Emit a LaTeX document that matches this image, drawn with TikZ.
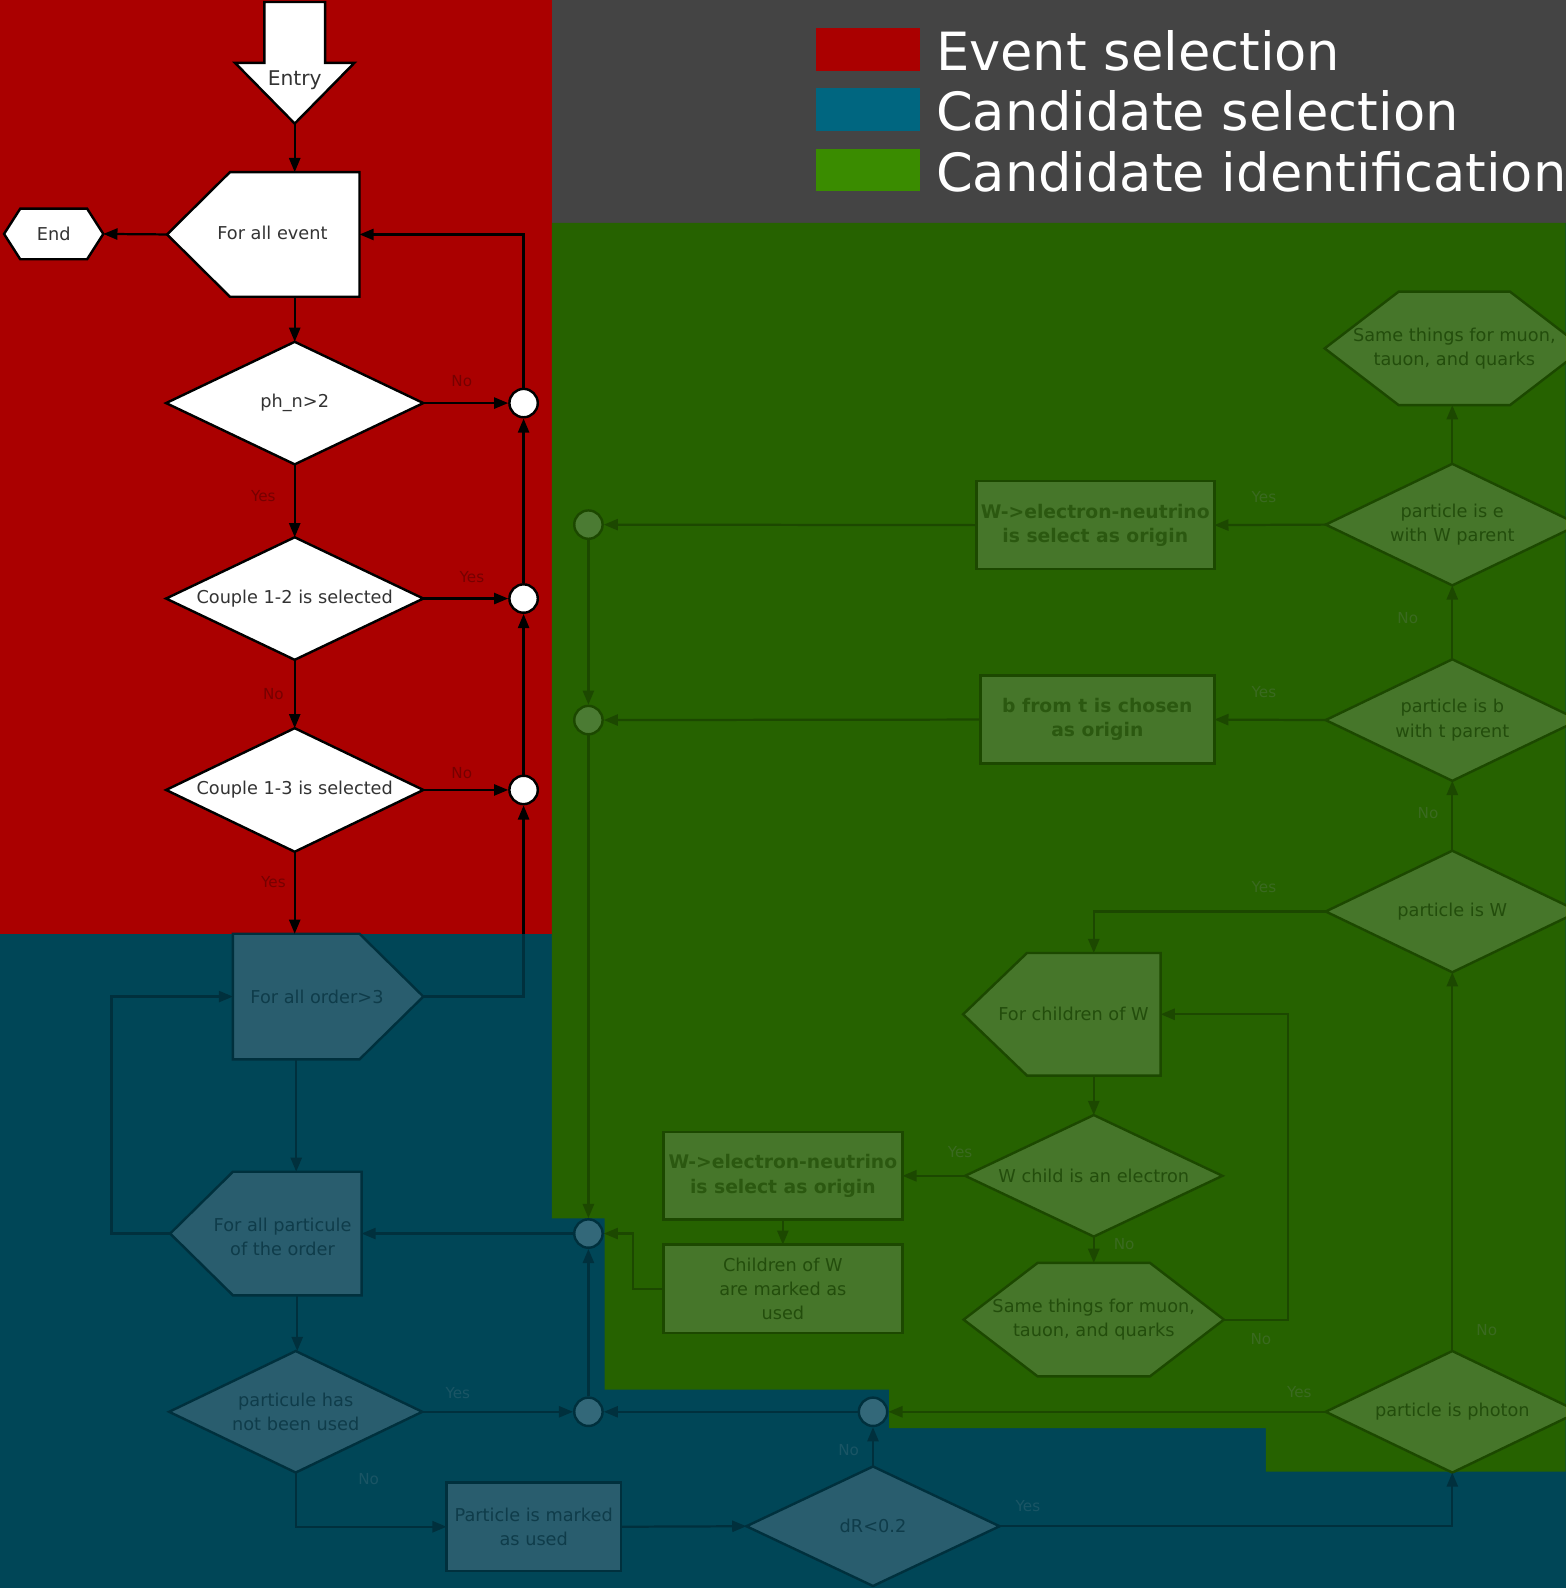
\documentclass[tikz,border=0pt]{standalone}
\usepackage{fontspec}
\setmainfont{DejaVu Sans}
\usetikzlibrary{arrows.meta,calc,shapes.geometric}
\definecolor{evred}{HTML}{AA0000}
\definecolor{legblue}{HTML}{006680}
\definecolor{leggreen}{HTML}{3A8C00}
\definecolor{graybg}{HTML}{444444}
\definecolor{gbg}{HTML}{266200}
\definecolor{gfill}{HTML}{46762A}
\definecolor{gline}{HTML}{1C4800}
\definecolor{gtxt}{HTML}{234D0C}
\definecolor{gbold}{HTML}{2B5810}
\definecolor{glbl}{HTML}{3A6A20}
\definecolor{gcirc}{HTML}{4B7B33}
\definecolor{bbg}{HTML}{004657}
\definecolor{bfill}{HTML}{295D6E}
\definecolor{bline}{HTML}{00303D}
\definecolor{btxt}{HTML}{0F3C4A}
\definecolor{blbl}{HTML}{1A5565}
\definecolor{bcirc}{HTML}{336879}
\definecolor{rtxt}{HTML}{333333}
\definecolor{rlbl}{HTML}{760000}

\pgfdeclarelayer{bglayer}
\pgfdeclarelayer{shplayer}
\pgfsetlayers{bglayer,shplayer,main}

\newcommand\myhex[3]{\draw[#3] (#1.west) -- ($(#1.north west)+(#2,0)$) -- ($(#1.north east)+(-#2,0)$) -- (#1.east) -- ($(#1.south east)+(-#2,0)$) -- ($(#1.south west)+(#2,0)$) -- cycle;}

\tikzset{
  sz/.style 2 args={minimum width=#1pt, minimum height=#2pt},
  mybase/.style={inner sep=0pt, outer sep=0pt, align=center, font=\fontsize{17.5}{24}\selectfont},
  boldtxt/.style={font=\fontsize{18.5}{24}\selectfont\bfseries, text=gbold},
  rnode/.style={mybase, fill=white, draw=black, line width=2.4pt, text=rtxt},
  bnode/.style={mybase, fill=bfill, draw=bline, line width=2.4pt, text=btxt},
  gnode/.style={mybase, fill=gfill, draw=gline, line width=2.4pt, text=gtxt},
  rpoly/.style={fill=white, draw=black, line width=2.4pt},
  bpoly/.style={fill=bfill, draw=bline, line width=2.4pt},
  gpoly/.style={fill=gfill, draw=gline, line width=2.4pt},
  rt/.style={mybase, text=rtxt},
  btx/.style={mybase, text=btxt},
  gtx/.style={mybase, text=gtxt},
  dia/.style={diamond, aspect=2},
  circ/.style={circle, minimum size=28pt, inner sep=0pt, line width=2.4pt},
  rcirc/.style={circ, fill=white, draw=black},
  bcircle/.style={circ, fill=bcirc, draw=bline},
  gcircle/.style={circ, fill=gcirc, draw=gline},
  arr/.style={-{Triangle[length=14pt,width=11pt]}},
  rc/.style={draw=black, line width=2.2pt},
  bc/.style={draw=bline, line width=2.2pt},
  gc/.style={draw=gline, line width=2.2pt},
  lbl/.style={inner sep=0pt, font=\fontsize{15}{18}\selectfont},
  lr/.style={lbl, text=rlbl},
  lb/.style={lbl, text=blbl},
  lg/.style={lbl, text=glbl},
  legtxt/.style={anchor=base west, inner sep=0pt, text=white, font=\fontsize{52}{60}\selectfont},
}

\begin{document}
\begin{tikzpicture}[x=1pt,y=-1pt]
\useasboundingbox (0,0) rectangle (1546,1568);

% ---------- background regions ----------
\begin{pgfonlayer}{bglayer}
\fill[bbg] (0,0) rectangle (1546,1568);
\fill[evred] (0,0) rectangle (545,922);
\fill[graybg] (545,0) rectangle (1546,220);
\fill[gbg] (545,220) -- (1546,220) -- (1546,1453) -- (1250,1453) -- (1250,1410)
  -- (878,1410) -- (878,1372) -- (597,1372) -- (597,1203) -- (545,1203) -- cycle;
\end{pgfonlayer}

% ---------- legend ----------
\node[fill=evred, sz={102}{42}, inner sep=0pt] (sq1) at (857,49) {};
\node[fill=legblue, sz={102}{42}, inner sep=0pt] (sq2) at (857,108) {};
\node[fill=leggreen, sz={102}{42}, inner sep=0pt] (sq3) at (857,168) {};
\node[legtxt] (lg1) at (924,70) {Event selection};
\node[legtxt] (lg2) at (924,129) {Candidate selection};
\node[legtxt] (lg3) at (924,189) {Candidate identification};

% ---------- event selection (red) ----------
\coordinate (entrytip) at (291,122);
\node[rt, font=\fontsize{20}{24}\selectfont] (entry) at (291,79) {Entry};
\node[mybase, sz={128}{123}] (fe) at (291,231.5) {};
\coordinate (fetip) at (165,231.5);
\node[rt] (fe-t) at (269,230) {For all event};
\node[rt, sz={98}{50}] (end) at (53,231) {End};
\node[rnode, dia, sz={254}{121}] (ph) at (291,398) {ph\_n>2};
\node[rcirc] (c1) at (517,398) {};
\node[rnode, dia, sz={254}{121}] (c12) at (291,591) {Couple 1-2 is selected};
\node[rcirc] (c2) at (517,591) {};
\node[rnode, dia, sz={254}{122}] (c13) at (291,780) {Couple 1-3 is selected};
\node[rcirc] (c3) at (517,780) {};

% ---------- candidate selection (blue) ----------
\node[mybase, sz={125}{124}] (fo) at (292.5,984) {};
\coordinate (fotip) at (418,984);
\node[btx] (fo-t) at (313,984) {For all order>3};
\node[mybase, sz={127}{122}] (fp) at (293.5,1218) {};
\coordinate (fptip) at (168,1218);
\node[btx] (fp-t) at (279,1221) {For all particule\\of the order};
\node[bnode, dia, sz={250}{120}] (pu) at (292,1394) {particule has\\not been used};
\node[bcircle] (cb1) at (581,1218) {};
\node[bcircle] (cb2) at (581,1394) {};
\node[bcircle] (cb3) at (862,1394) {};
\node[bnode, sz={172}{87}] (pm) at (527,1507.5) {Particle is marked\\as used};
\node[bnode, dia, sz={250}{118}] (dr) at (862,1507) {dR<0.2};

% ---------- candidate identification (green) ----------
\node[gcircle] (cg1) at (581,518) {};
\node[gcircle] (cg2) at (581,711) {};
\node[gnode, boldtxt, sz={235}{87}] (we1) at (1081.5,518.5) {W->electron-neutrino\\is select as origin};
\node[gnode, boldtxt, sz={231}{87}] (btrect) at (1083.5,710.5) {b from t is chosen\\as origin};
\node[gtx, sz={256}{112}] (hx1) at (1436,344) {Same things for muon,\\tauon, and quarks};
\node[gnode, dia, sz={250}{120}] (de) at (1434,518) {particle is e\\with W parent};
\node[gnode, dia, sz={250}{120}] (db) at (1434,711) {particle is b\\with t parent};
\node[gnode, dia, sz={250}{120}] (dw) at (1434,900) {particle is W};
\node[mybase, sz={132}{121}] (fc) at (1080,1001.5) {};
\coordinate (fctip) at (951,1001.5);
\node[gtx] (fc-t) at (1060,1001) {For children of W};
\node[gnode, dia, sz={254}{120}] (dce) at (1080,1161) {W child is an electron};
\node[gnode, boldtxt, sz={236}{86}] (we2) at (773,1161) {W->electron-neutrino\\is select as origin};
\node[gnode, sz={236}{87}] (cm) at (773,1272.5) {Children of W\\are marked as\\used};
\node[gtx, sz={257}{112}] (hx2) at (1080,1303) {Same things for muon,\\tauon, and quarks};
\node[gnode, dia, sz={250}{120}] (pp) at (1434,1394) {particle is photon};

% ---------- custom shapes ----------
\begin{pgfonlayer}{shplayer}
\draw[rpoly] (261,2) -- (321,2) -- (321,62) -- (350,62) -- (entrytip) -- (232,62) -- (261,62) -- cycle;
\draw[rpoly] (fe.north west) -- (fe.north east) -- (fe.south east) -- (fe.south west) -- (fetip) -- cycle;
\myhex{end}{16}{rpoly}
\draw[bpoly] (fo.north west) -- (fo.north east) -- (fotip) -- (fo.south east) -- (fo.south west) -- cycle;
\draw[bpoly] (fp.north west) -- (fp.north east) -- (fp.south east) -- (fp.south west) -- (fptip) -- cycle;
\myhex{hx1}{73}{gpoly}
\draw[gpoly] (fc.north west) -- (fc.north east) -- (fc.south east) -- (fc.south west) -- (fctip) -- cycle;
\myhex{hx2}{73}{gpoly}
\end{pgfonlayer}

% ---------- connectors: red ----------
\draw[rc,arr] (entrytip) -- (fe.north);
\draw[rc,arr] (fetip) -- (end.east);
\draw[rc,arr] (fe.south) -- (ph.north);
\draw[rc,arr] (ph.east) -- (c1);
\draw[rc,arr] (ph.south) -- (c12.north);
\draw[rc,arr] (c12.east) -- (c2);
\draw[rc,arr] (c12.south) -- (c13.north);
\draw[rc,arr] (c13.east) -- (c3);
\draw[rc,arr] (c13.south) -- (c13.south |- fo.north);
\coordinate (b1) at (c3 |- fo.north);
\draw[bc] (fotip) -| (b1);
\draw[rc,arr] (b1) -- (c3);
\draw[rc,arr] (c3) -- (c2);
\draw[rc,arr] (c2) -- (c1);
\draw[rc,arr] (c1.north) |- (fe.east);

% ---------- connectors: blue ----------
\draw[bc,arr] (fo.south) -- (fo.south |- fp.north);
\draw[bc,arr] (fptip) -- ++(-58,0) |- (fo.west);
\draw[bc,arr] (fp.south) -- (fp.south |- pu.north);
\draw[bc,arr] (pu.east) -- (cb2);
\draw[bc,arr] (pu.south) |- (pm.west);
\draw[bc,arr] (pm.east) -- (dr.west);
\draw[bc,arr] (dr.north) -- (cb3);
\draw[bc,arr] (dr.east) -| (pp.south);
\draw[bc,arr] (cb3) -- (cb2);
\draw[bc,arr] (cb2) -- (cb1);
\draw[bc,arr] (cb1) -- (fp.east);

% ---------- connectors: green ----------
\draw[gc,arr] (pp.west) -- (cb3);
\draw[gc,arr] (pp.north) -- (dw.south);
\draw[gc,arr] (dw.north) -- (db.south);
\draw[gc,arr] (db.north) -- (de.south);
\draw[gc,arr] (de.north) -- (de.north |- hx1.south);
\draw[gc,arr] (de.west) -- (we1.east);
\draw[gc,arr] (db.west) -- (btrect.east);
\draw[gc,arr] (we1.west) -- (cg1);
\draw[gc,arr] (btrect.west) -- (cg2);
\draw[gc,arr] (cg1) -- (cg2);
\draw[gc,arr] (cg2) -- (cb1);
\draw[gc,arr] (dw.west) -| (fc.north);
\draw[gc,arr] (fc.south) -- (dce.north);
\draw[gc,arr] (dce.west) -- (we2.east);
\draw[gc,arr] (we2.south) -- (cm.north);
\draw[gc,arr] (dce.south) -- (hx2.north);
\draw[gc,arr] (hx2.east) -- ++(63,0) |- (fc.east);
\draw[gc,arr] (cm.west) -- ++(-30,0) |- (cb1.east);

% ---------- labels ----------
\node[lr] (l1) at (456,376) {No};
\node[lr] (l2) at (260,490) {Yes};
\node[lr] (l3) at (466,570) {Yes};
\node[lr] (l4) at (270,685) {No};
\node[lr] (l5) at (456,763) {No};
\node[lr] (l6) at (270,871) {Yes};
\node[lb] (l7) at (452,1376) {Yes};
\node[lb] (l8) at (364,1460) {No};
\node[lb] (l9) at (838,1432) {No};
\node[lb] (l10) at (1015,1487) {Yes};
\node[lg] (l11) at (1283,1375) {Yes};
\node[lg] (l12) at (1468,1313) {No};
\node[lg] (l13) at (1245,1322) {No};
\node[lg] (l14) at (1110,1228) {No};
\node[lg] (l15) at (948,1138) {Yes};
\node[lg] (l16) at (1248,876) {Yes};
\node[lg] (l17) at (1410,803) {No};
\node[lg] (l18) at (1248,683) {Yes};
\node[lg] (l19) at (1390,610) {No};
\node[lg] (l20) at (1248,491) {Yes};
\end{tikzpicture}
\end{document}
